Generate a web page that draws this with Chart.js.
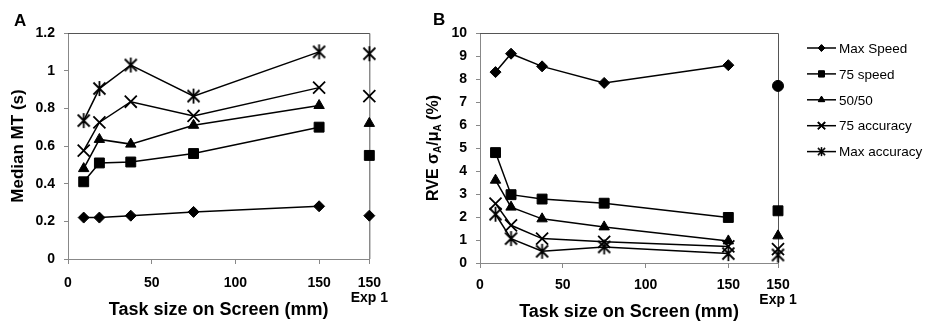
<!DOCTYPE html>
<html>
<head>
<meta charset="utf-8">
<script src="https://cdn.jsdelivr.net/npm/chart.js@4"></script>
<style>
  html, body { margin: 0; padding: 0; background: #fff; }
  body { width: 933px; height: 325px; position: relative; overflow: hidden; font-family: "Liberation Sans", Arial, sans-serif; }
  .wrap { position: absolute; top: 0; }
  .plabel { position: absolute; font: bold 17px "Liberation Sans", Arial, sans-serif; color: #000; }
</style>
</head>
<body>
<div class="wrap" style="left:0;width:400px;height:325px"><canvas id="cA" width="400" height="325"></canvas></div>
<div class="wrap" style="left:400px;width:533px;height:325px"><canvas id="cB" width="533" height="325"></canvas></div>
<div class="plabel" style="left:14px;top:11px">A</div>
<div class="plabel" style="left:433px;top:10px">B</div>
<script>
// ---- data ----
const taskSizes = [9.375, 18.75, 37.5, 75, 150];
const exp1X = 180;
const seriesNames = ['Max Speed', '75 speed', '50/50', '75 accuracy', 'Max accuracy'];

// Panel A: median movement time (s)
const mtMaxSpeed   = [0.22, 0.22, 0.23, 0.25, 0.28];
const mt75Speed    = [0.41, 0.51, 0.515, 0.56, 0.70];
const mt5050       = [0.48, 0.635, 0.61, 0.71, 0.815];
const mt75Acc      = [0.575, 0.725, 0.835, 0.76, 0.91];
const mtMaxAcc     = [0.735, 0.905, 1.03, 0.865, 1.10];
const mtExp1       = [0.23, 0.55, 0.72, 0.865, 1.09];

// Panel B: RVE (%)
const rveMaxSpeed  = [8.3, 9.1, 8.55, 7.83, 8.6];
const rve75Speed   = [4.8, 2.97, 2.78, 2.6, 1.98];
const rve5050      = [3.6, 2.43, 1.92, 1.57, 0.96];
const rve75Acc     = [2.58, 1.64, 1.06, 0.92, 0.72];
const rveMaxAcc    = [2.12, 1.06, 0.51, 0.7, 0.41];
const rveExp1      = [7.7, 2.27, 1.18, 0.6, 0.35];

// ticks
const xTickValues = [0, 50, 100, 150, 180];
const xTickLabels = ['0', '50', '100', '150', ['150', 'Exp 1']];
const yTicksA = [0, 0.2, 0.4, 0.6, 0.8, 1, 1.2];
const yTicksB = [0, 1, 2, 3, 4, 5, 6, 7, 8, 9, 10];

// ---- styles ----
const FONT = '"Liberation Sans", Arial, sans-serif';

// Excel-like asterisk marker: X plus vertical bar
function makeStar(size, lw) {
  const c = document.createElement('canvas');
  c.width = size; c.height = size;
  const g = c.getContext('2d');
  const m = size / 2, r = size / 2 - 1;
  const d = r * 0.8;
  g.strokeStyle = '#000'; g.lineWidth = lw; g.lineCap = 'butt';
  g.beginPath();
  g.moveTo(m - d, m - d); g.lineTo(m + d, m + d);
  g.moveTo(m + d, m - d); g.lineTo(m - d, m + d);
  g.moveTo(m, m - r); g.lineTo(m, m + r);
  g.stroke();
  return c;
}
const starBig = makeStar(17, 1.8);
const starSmall = makeStar(11, 1.5);

const markerStyles = ['rectRot', 'rect', 'triangle', 'crossRot', starBig];
const markerRadius = [5.5, 7, 6, 8.5, 8];
const exp1StylesB = ['circle', 'rect', 'triangle', 'crossRot', starBig];

function pts(xs, ys) { return xs.map((x, i) => ({x: x, y: ys[i]})); }

function buildDatasets(series, exp1, exp1Styles) {
  const ds = [];
  series.forEach((ys, i) => {
    ds.push({
      label: seriesNames[i],
      data: pts(taskSizes, ys),
      borderColor: '#000', backgroundColor: '#000',
      borderWidth: 1.5,
      pointStyle: markerStyles[i], pointRadius: markerRadius[i],
      pointBorderWidth: (i >= 3 ? 1.8 : 1),
      pointBackgroundColor: '#000', pointBorderColor: '#000',
      showLine: true, tension: 0, clip: false
    });
  });
  exp1.forEach((y, i) => {
    ds.push({
      label: seriesNames[i] + ' Exp 1',
      data: [{x: exp1X, y: y}],
      borderColor: '#000', backgroundColor: '#000',
      showLine: false,
      pointStyle: exp1Styles[i], pointRadius: markerRadius[i],
      pointBorderWidth: (i >= 3 ? 1.8 : 1),
      pointBackgroundColor: '#000', pointBorderColor: '#000',
      clip: false
    });
  });
  return ds;
}

const boxPlugin = {
  id: 'boxPlugin',
  beforeDatasetsDraw(chart) {
    const a = chart.chartArea, ctx = chart.ctx;
    ctx.save();
    ctx.strokeStyle = '#555';
    ctx.lineWidth = 1;
    ctx.beginPath();
    ctx.moveTo(a.left, a.top + 0.5);
    ctx.lineTo(a.right + 0.5, a.top + 0.5);
    ctx.lineTo(a.right + 0.5, a.bottom);
    ctx.stroke();
    ctx.restore();
  }
};

function xScale(tickPad, height, titlePadBottom) {
  return {
    type: 'linear', min: 0, max: 180,
    afterBuildTicks(s) { s.ticks = xTickValues.map(v => ({value: v})); },
    afterFit(s) { s.height = height; },
    border: { display: true, color: '#888', width: 1 },
    grid: { drawOnChartArea: false, drawTicks: true, tickLength: 5, color: '#888', tickColor: '#888' },
    ticks: {
      color: '#000', padding: tickPad, maxRotation: 0, autoSkip: false,
      font: { family: FONT, size: 14, weight: 'bold', lineHeight: 1.05 },
      callback(v) { const i = xTickValues.indexOf(v); return i >= 0 ? xTickLabels[i] : ''; }
    },
    title: { display: true, text: 'Task size on Screen (mm)', color: '#000',
      font: { family: FONT, size: 18, weight: 'bold' }, padding: { top: 0, bottom: titlePadBottom } }
  };
}

function yScale(ticksArr, width, titleObj) {
  return {
    type: 'linear', min: ticksArr[0], max: ticksArr[ticksArr.length - 1],
    afterBuildTicks(s) { s.ticks = ticksArr.map(v => ({value: v})); },
    afterFit(s) { s.width = width; },
    border: { display: true, color: '#888', width: 1 },
    grid: { drawOnChartArea: false, drawTicks: true, tickLength: 4, color: '#888', tickColor: '#888' },
    ticks: {
      color: '#000', padding: 9,
      font: { family: FONT, size: 14, weight: 'bold' },
      callback(v) { return String(v); }
    },
    title: titleObj
  };
}

// Panel A
new Chart(document.getElementById('cA'), {
  type: 'scatter',
  data: { datasets: buildDatasets([mtMaxSpeed, mt75Speed, mt5050, mt75Acc, mtMaxAcc], mtExp1, markerStyles) },
  options: {
    responsive: false, animation: false,
    layout: { padding: { top: 33, right: 27, left: 0, bottom: 0 } },
    plugins: { legend: { display: false }, tooltip: { enabled: false } },
    scales: {
      x: xScale(12, 66, 4),
      y: yScale(yTicksA, 68, { display: true, text: 'Median MT (s)', color: '#000',
        font: { family: FONT, size: 17, weight: 'bold' }, padding: { top: 8, bottom: 0 } })
    }
  },
  plugins: [boxPlugin]
});

// Panel B: y title with subscripts + custom legend
const bExtras = {
  id: 'bExtras',
  afterDraw(chart) {
    const ctx = chart.ctx, a = chart.chartArea;
    // y-axis title: RVE σA/μA (%)
    ctx.save();
    const cx = 33, cy = (a.top + a.bottom) / 2;
    ctx.translate(cx, cy);
    ctx.rotate(-Math.PI / 2);
    const big = 'bold 16px ' + FONT, small = 'bold 10px ' + FONT;
    const parts = [['RVE σ', big, 0], ['A', small, 4], ['/μ', big, 0], ['A', small, 4], [' (%)', big, 0]];
    let total = 0;
    parts.forEach(p => { ctx.font = p[1]; total += ctx.measureText(p[0]).width; });
    let x = -total / 2;
    ctx.fillStyle = '#000';
    ctx.textBaseline = 'middle';
    parts.forEach(p => { ctx.font = p[1]; ctx.fillText(p[0], x, p[2] + 1); x += ctx.measureText(p[0]).width; });
    ctx.restore();

    // legend
    ctx.save();
    const lx = 407, ly0 = 48, dy = 25.9;
    seriesNames.forEach((name, i) => {
      const y = ly0 + i * dy;
      ctx.strokeStyle = '#000'; ctx.lineWidth = 1.5;
      ctx.beginPath(); ctx.moveTo(lx, y); ctx.lineTo(lx + 29, y); ctx.stroke();
      ctx.fillStyle = '#000';
      if (i === 4) {
        ctx.drawImage(starSmall, lx + 14.5 - starSmall.width / 2, y - starSmall.height / 2);
      } else {
        ctx.lineWidth = (i >= 3 ? 1.6 : 1);
        Chart.helpers.drawPoint(ctx, { pointStyle: markerStyles[i], radius: markerRadius[i] * 0.6, borderWidth: ctx.lineWidth, rotation: 0 }, lx + 14.5, y);
        if (i < 3) ctx.fill();
        ctx.stroke();
      }
      ctx.font = '13.5px ' + FONT;
      ctx.textBaseline = 'middle';
      ctx.fillText(name, lx + 32, y + 1);
    });
    ctx.restore();
  }
};

new Chart(document.getElementById('cB'), {
  type: 'scatter',
  data: { datasets: buildDatasets([rveMaxSpeed, rve75Speed, rve5050, rve75Acc, rveMaxAcc], rveExp1, exp1StylesB) },
  options: {
    responsive: false, animation: false,
    layout: { padding: { top: 33, right: 155, left: 0, bottom: 0 } },
    plugins: { legend: { display: false }, tooltip: { enabled: false } },
    scales: {
      x: xScale(10, 62, 2),
      y: yScale(yTicksB, 80, { display: false })
    }
  },
  plugins: [boxPlugin, bExtras]
});
</script>
</body>
</html>
